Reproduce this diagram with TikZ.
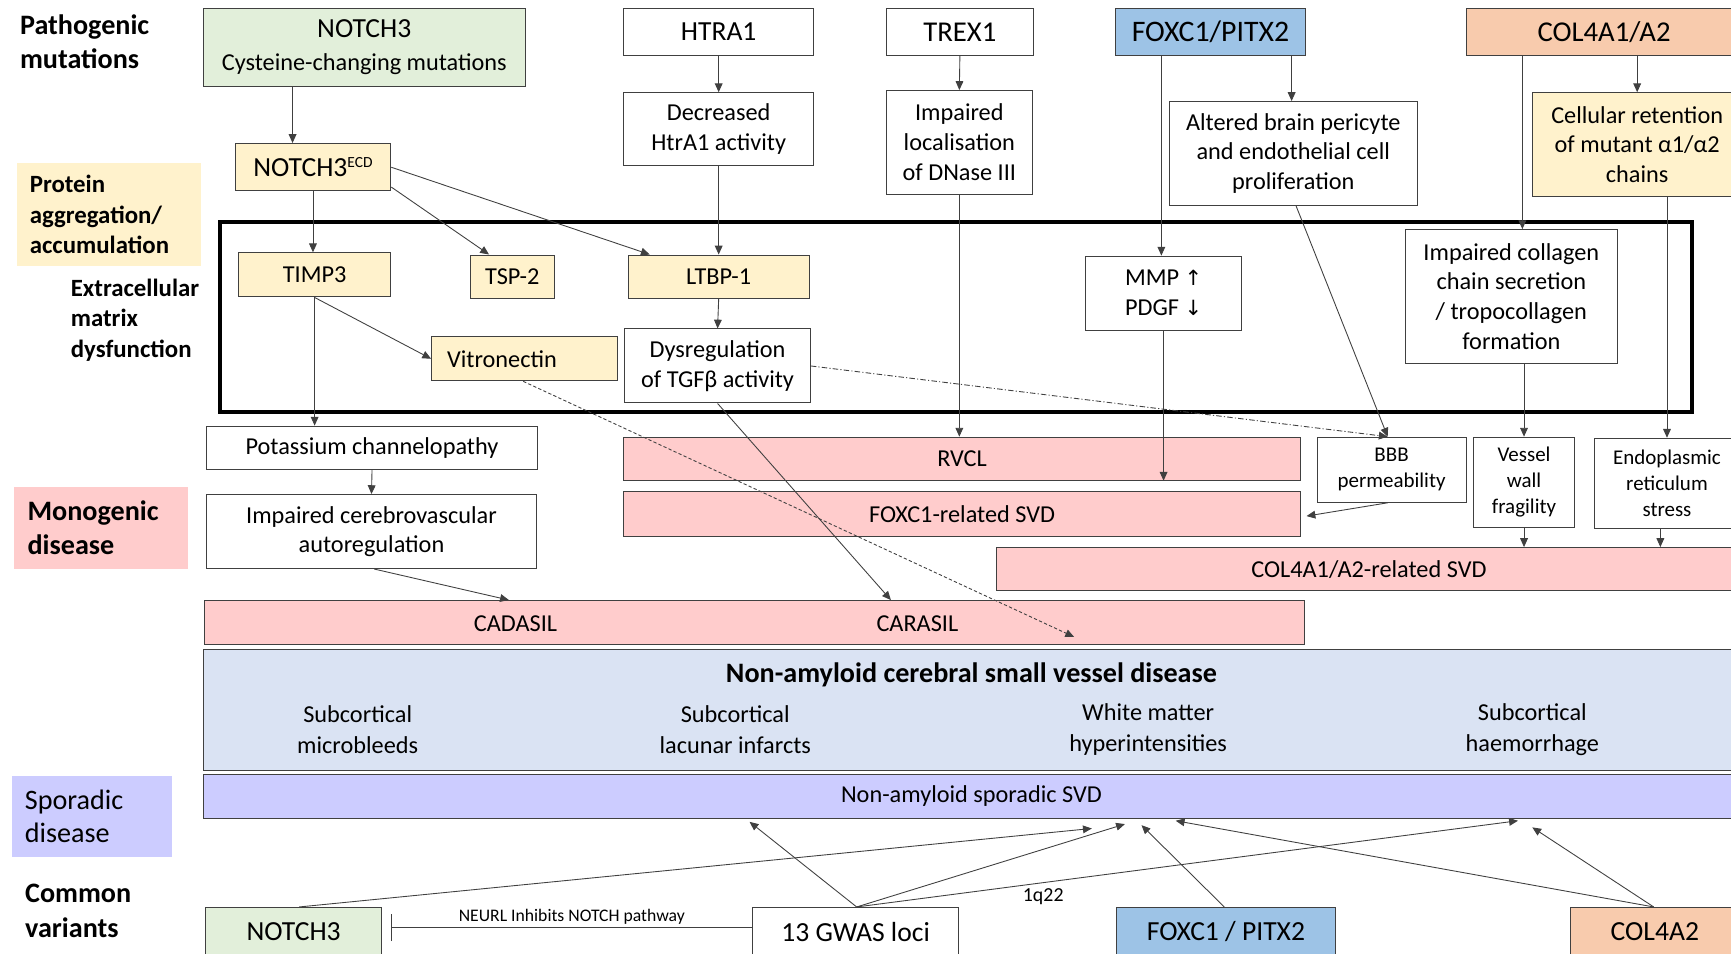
\documentclass[tikz,border=0pt]{standalone}
\usepackage{fontspec}
\setmainfont{Carlito}
\newfontfamily\djv{DejaVu Sans}
\usetikzlibrary{arrows.meta}
\definecolor{cgreen}{HTML}{E2EFDA}
\definecolor{cyellow}{HTML}{FFF2CC}
\definecolor{cblue}{HTML}{9DC3E6}
\definecolor{cpeach}{HTML}{F8CBAD}
\definecolor{cpink}{HTML}{FFCCCC}
\definecolor{clblue}{HTML}{DAE3F3}
\definecolor{clav}{HTML}{CCCCFF}
\definecolor{cline}{HTML}{404040}
\newcommand\szgene{\fontsize{25}{29}\selectfont}
\newcommand\szmid{\fontsize{22}{27}\selectfont}
\newcommand\szsm{\fontsize{19}{23.5}\selectfont}
\newcommand\szlab{\fontsize{22.5}{27.5}\selectfont}
\newcommand\szbig{\fontsize{25.5}{30}\selectfont}
\newcommand\szbot{\fontsize{25}{30}\selectfont}
\newcommand\sztiny{\fontsize{16}{19}\selectfont}
\begin{document}
\begin{tikzpicture}[x=1pt,y=-1pt,
  box/.style={draw=cline, line width=0.9pt, inner sep=0pt, align=center, font=\szmid},
  arr/.style={draw=cline, line width=0.8pt, -{Triangle[length=8pt,width=7pt]}},
  inh/.style={draw=cline, line width=0.8pt, -{Bar[width=25pt]}},
  plain/.style={inner sep=0pt, align=center, font=\szmid}]
\useasboundingbox (0,0) rectangle (1568,864);
\clip (0,0) rectangle (1568,864);

% left labels
\node[anchor=west, inner sep=0pt, align=left, font=\bfseries\fontsize{25.5}{31}\selectfont] (lpath) at (18,37.5) {Pathogenic\\mutations};
\node[fill=cyellow, minimum height=93pt, text width=143pt, inner xsep=12pt, inner ysep=0pt, align=left, font=\bfseries\szlab] (lprot) at (98.5,194.5) {Protein\\aggregation/\\accumulation};
\node[anchor=west, inner sep=0pt, align=left, font=\bfseries\szlab] (lecm) at (64,290) {Extracellular\\matrix\\dysfunction};
\node[fill=cpink, minimum height=74pt, text width=133pt, inner xsep=12pt, inner ysep=0pt, align=left, font=\bfseries\szbig] (lmono) at (91.5,478) {Monogenic\\disease};
\node[fill=clav, minimum height=73pt, text width=122pt, inner xsep=11.5pt, inner ysep=0pt, align=left, font=\szbig] (lspor) at (83.5,739.5) {Sporadic\\disease};
\node[anchor=west, inner sep=0pt, align=left, font=\bfseries\fontsize{25.5}{32}\selectfont] (lcom) at (22.6,825) {Common\\variants};

% ECM frame
\node[draw=black, line width=3.6pt, minimum width=1334pt, minimum height=172pt, inner sep=0pt] (ecm) at (866,287) {};

% top row
\node[box,fill=cgreen,minimum width=292pt,minimum height=70pt] (n3top) at (330,43) {{\szgene NOTCH3}\\[3pt]Cysteine-changing mutations};
\node[box,font=\szgene,minimum width=172pt,minimum height=42pt] (htra1) at (651,29) {HTRA1};
\node[box,font=\fontsize{26}{29}\selectfont,minimum width=133pt,minimum height=42pt] (trex1) at (869.5,29) {TREX1};
\node[box,font=\fontsize{27}{29}\selectfont,fill=cblue,minimum width=173pt,minimum height=42pt] (foxtop) at (1096.5,29) {FOXC1/PITX2};
\node[box,font=\fontsize{26}{29}\selectfont,fill=cpeach,minimum width=250pt,minimum height=42pt] (coltop) at (1453,29) {COL4A1/A2};

% second row
\node[box,minimum width=172pt,minimum height=66pt] (htdec) at (651,117) {Decreased\\HtrA1 activity};
\node[box,minimum width=132pt,minimum height=94pt] (dnase) at (869,129) {Impaired\\localisation\\of DNase III};
\node[box,minimum width=225pt,minimum height=94pt] (altered) at (1171.5,139) {Altered brain pericyte\\and endothelial cell\\proliferation};
\node[box,fill=cyellow,minimum width=190pt,minimum height=94pt] (cellret) at (1483,131) {Cellular retention\\of mutant α1/α2\\chains};
\node[box,fill=cyellow,minimum width=141pt,minimum height=43pt,font=\szgene] (ecd) at (283.5,151.5) {NOTCH3\raisebox{8pt}{\fontsize{14}{14}\selectfont ECD}};

% inside ECM
\node[box,fill=cyellow,minimum width=138pt,minimum height=40pt] (timp3) at (285,249) {TIMP3};
\node[box,fill=cyellow,minimum width=76pt,minimum height=39pt] (tsp2) at (464,250.5) {TSP-2};
\node[box,fill=cyellow,minimum width=164pt,minimum height=39pt] (ltbp1) at (651,250.5) {LTBP-1};
\node[box,fill=cyellow,minimum height=40pt,text width=140pt,align=left,inner xsep=14pt] (vitro) at (475,325) {Vitronectin};
\node[box,minimum width=168pt,minimum height=67pt] (dysreg) at (650,331.5) {Dysregulation\\of TGFβ activity};
\node[box,minimum width=142pt,minimum height=67pt] (mmp) at (1054,265.5) {MMP {\djv\fontsize{19}{27}\selectfont ↑}\\PDGF {\djv\fontsize{19}{27}\selectfont ↓}};
\node[box,minimum width=192pt,minimum height=121pt] (collagen) at (1369,268.5) {Impaired collagen\\chain secretion\\/ tropocollagen\\formation};

% below ECM
\node[box,minimum width=300pt,minimum height=39pt] (potass) at (337,405.5) {Potassium channelopathy};
\node[box,minimum width=299pt,minimum height=67pt] (cerebro) at (336.5,481.5) {Impaired cerebrovascular\\autoregulation};
\node[box,fill=cpink,minimum width=997pt,minimum height=40pt] (cadbar) at (683.5,564) {};
\node[plain] (cadasil) at (467,565) {CADASIL};
\node[plain] (carasil) at (831,565) {CARASIL};
\node[box,fill=cpink,minimum width=613pt,minimum height=39pt] (rvcl) at (871.5,415.5) {RVCL};
\node[box,fill=cpink,minimum width=613pt,minimum height=41pt] (foxsvd) at (871.5,465.5) {FOXC1-related SVD};
\node[box,fill=cpink,minimum width=674pt,minimum height=39pt] (colsvd) at (1240,515.5) {COL4A1/A2-related SVD};
\node[box,font=\szsm,minimum width=135pt,minimum height=59pt] (bbb) at (1260.5,425.5) {BBB\\permeability};
\node[box,font=\szsm,minimum width=91pt,minimum height=82pt] (vessel) at (1380.5,437) {Vessel\\wall\\fragility};
\node[box,font=\szsm,minimum width=132pt,minimum height=82pt] (endo) at (1510,438) {Endoplasmic\\reticulum\\stress};

% disease
\node[box,fill=clblue,minimum width=1392pt,minimum height=110pt] (svd) at (880,643) {};
\node[plain,font=\bfseries\szbig] (svdtitle) at (880,611) {Non-amyloid cerebral small vessel disease};
\node[plain,font=\fontsize{22}{28}\selectfont] (f1) at (324,661) {Subcortical\\microbleeds};
\node[plain,font=\fontsize{22}{28}\selectfont] (f2) at (666,661) {Subcortical\\lacunar infarcts};
\node[plain,font=\fontsize{22}{28}\selectfont] (f3) at (1040,661) {White matter\\hyperintensities};
\node[plain,font=\fontsize{22}{28}\selectfont] (f4) at (1388,661) {Subcortical\\haemorrhage};
\node[box,fill=clav,minimum width=1392pt,minimum height=39pt] (spor) at (880,721.5) {Non-amyloid sporadic SVD};

% bottom row
\node[box,fill=cgreen,font=\szbot,minimum width=160pt,minimum height=44pt] (n3bot) at (266,844) {NOTCH3};
\node[box,font=\szbot,minimum width=186pt,minimum height=44pt] (gwas) at (775,844) {13 GWAS loci};
\node[box,fill=cblue,font=\szbot,minimum width=199pt,minimum height=44pt] (foxbot) at (1110.5,844) {FOXC1 / PITX2};
\node[box,fill=cpeach,font=\szbot,minimum width=152pt,minimum height=44pt] (colbot) at (1499,844) {COL4A2};
\node[plain,font=\fontsize{18}{20}\selectfont] (lq) at (945,812) {1q22};

% connectors top part
\coordinate (c1) at ([xshift=-65pt]n3top.south);
\draw[arr] (c1) -- (c1 |- ecd.north);
\draw[arr] (ecd.south) -- (ecd.south |- timp3.north);
\draw[arr] ([yshift=4pt]ecd.south east) -- ([xshift=-21pt]tsp2.north);
\draw[arr] (ecd.east) -- ([xshift=20pt]ltbp1.north west);
\draw[arr] (timp3.south) -- (vitro.west);
\draw[arr] (timp3.south) -- (timp3.south |- potass.north);
\draw[arr] (htra1.south) -- (htdec.north);
\draw[arr] (htdec.south) -- (ltbp1.north);
\draw[arr] (ltbp1.south) -- (dysreg.north);
\draw[arr] (trex1.south) -- (dnase.north);
\draw[arr] (dnase.south) -- (dnase.south |- rvcl.north);
\coordinate (c2) at ([xshift=-44.5pt]foxtop.south);
\draw[arr] (c2) -- (c2 |- mmp.north);
\coordinate (c3) at ([xshift=73.5pt]foxtop.south);
\draw[arr] (c3) -- (c3 |- altered.north);
\draw[arr] (mmp.south) -- (mmp.south |- rvcl.south);
\draw[arr] ([xshift=2.5pt]altered.south) -- ([xshift=-3.5pt]bbb.north);
\draw[arr, dash pattern=on 5pt off 2pt on 1pt off 2pt] (dysreg.east) -- ([xshift=-3.5pt]bbb.north);
\draw[arr] ([xshift=-3.5pt]bbb.south) -- ([xshift=5pt,yshift=-2pt]foxsvd.east);
\coordinate (c4) at ([xshift=-74pt]coltop.south);
\draw[arr] (c4) -- (c4 |- collagen.north);
\coordinate (c5) at ([xshift=30pt]coltop.south);
\draw[arr] (c5) -- (c5 |- cellret.north);
\draw[arr] (collagen.south -| vessel.north) -- (vessel.north);
\draw[arr] (cellret.south -| endo.north) -- (endo.north);
\draw[arr] (vessel.south) -- (vessel.south |- colsvd.north);
\coordinate (c6) at ([xshift=-6pt]endo.south);
\draw[arr] (c6) -- (c6 |- colsvd.north);
\draw[arr] (potass.south) -- (cerebro.north);
\draw[arr] ([xshift=2.5pt]cerebro.south) -- ([xshift=-222.5pt]cadbar.north);
\draw[arr] (dysreg.south) -- ([xshift=123.5pt]cadbar.north);
\draw[arr, densely dashed] ([xshift=-1pt]vitro.south) -- ([xshift=289.5pt,yshift=-13pt]cadbar.center);

% connectors bottom part
\coordinate (g) at ([xshift=1pt]gwas.north);
\draw[arr] (g) -- ([xshift=-201pt,yshift=-3pt]spor.south);
\draw[arr] (g) -- ([xshift=139pt,yshift=-5pt]spor.south);
\draw[arr] (g) -- ([xshift=495pt,yshift=-2pt]spor.south);
\draw[arr] ([xshift=5pt]n3bot.north) -- ([xshift=109pt,yshift=-9pt]spor.south);
\draw[arr] ([xshift=-1.5pt]foxbot.north) -- ([xshift=154pt,yshift=-6pt]spor.south);
\draw[arr] ([xshift=-1pt]colbot.north) -- ([xshift=185pt,yshift=-2pt]spor.south);
\draw[arr] ([xshift=-1pt]colbot.north) -- ([xshift=508pt,yshift=-8pt]spor.south);
\draw[inh] ([yshift=4pt]gwas.west) -- ([xshift=8pt,yshift=4pt]n3bot.east) node[midway, above, font=\sztiny, inner sep=2pt] (neurl) {NEURL Inhibits NOTCH pathway};
\end{tikzpicture}
\end{document}
